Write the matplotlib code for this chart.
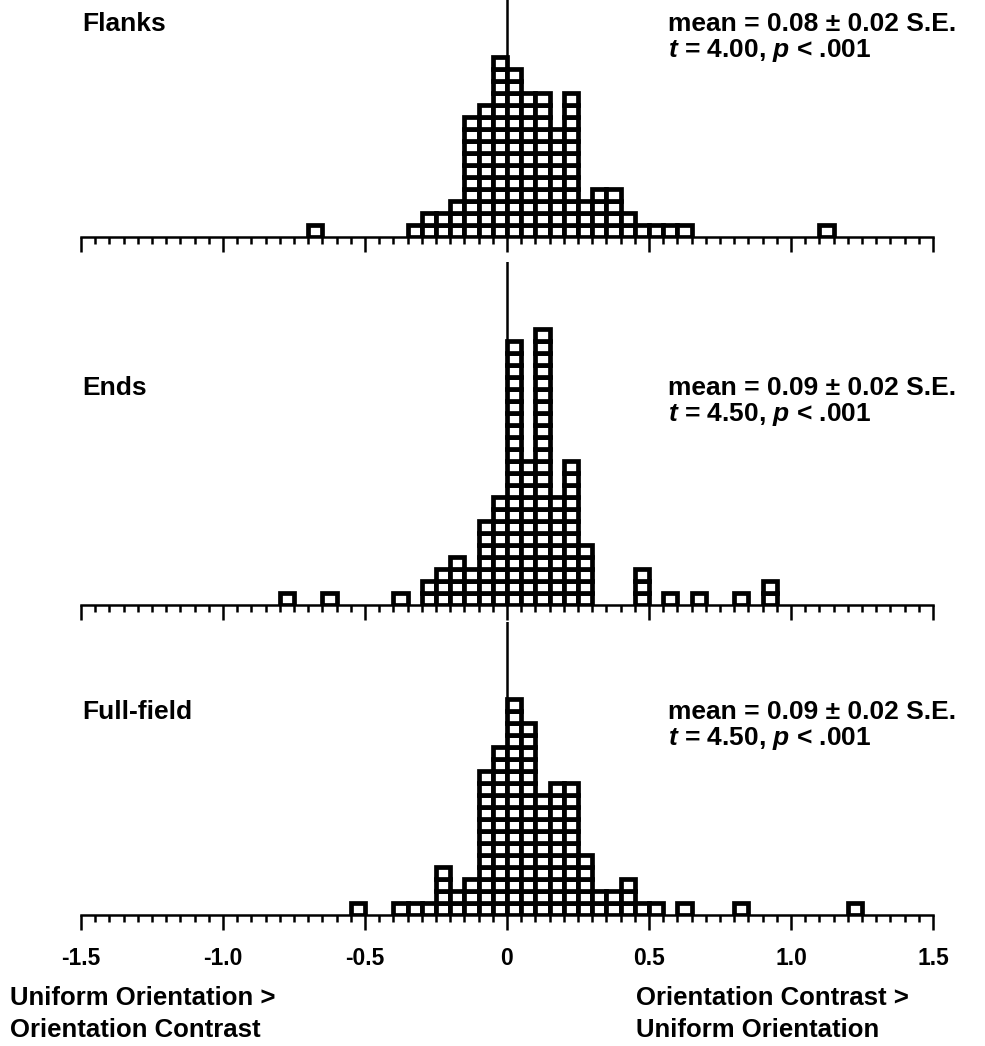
import matplotlib
matplotlib.use("Agg")
import matplotlib.pyplot as plt
from matplotlib.patches import Rectangle
from matplotlib.ticker import MultipleLocator

plt.rcParams['font.family'] = ['Liberation Sans', 'DejaVu Sans']
plt.rcParams['font.weight'] = 'bold'
plt.rcParams['mathtext.fontset'] = 'custom'
plt.rcParams['mathtext.it'] = 'Liberation Sans:italic:bold'
plt.rcParams['mathtext.rm'] = 'Liberation Sans:bold'

BIN = 0.05

# left edge of each occupied bin and number of observers in it
flanks_bins = [-0.70, -0.35, -0.30, -0.25, -0.20, -0.15, -0.10, -0.05, 0.00, 0.05, 0.10,
               0.15, 0.20, 0.25, 0.30, 0.35, 0.40, 0.45, 0.50, 0.55, 0.60, 1.10]
flanks_counts = [1, 1, 2, 2, 3, 10, 11, 15, 14, 12, 12, 9, 12, 3, 4, 4, 2, 1, 1, 1, 1, 1]

ends_bins = [-0.80, -0.65, -0.40, -0.30, -0.25, -0.20, -0.15, -0.10, -0.05, 0.00, 0.05,
             0.10, 0.15, 0.20, 0.25, 0.45, 0.55, 0.65, 0.80, 0.90]
ends_counts = [1, 1, 1, 2, 3, 4, 3, 7, 9, 22, 12, 23, 9, 12, 5, 3, 1, 1, 1, 2]

full_bins = [-0.55, -0.40, -0.35, -0.30, -0.25, -0.20, -0.15, -0.10, -0.05, 0.00, 0.05,
             0.10, 0.15, 0.20, 0.25, 0.30, 0.35, 0.40, 0.45, 0.50, 0.60, 0.80, 1.20]
full_counts = [1, 1, 1, 1, 4, 2, 3, 12, 14, 18, 16, 10, 11, 11, 5, 2, 2, 3, 1, 1, 1, 1, 1]

names = ["Flanks", "Ends", "Full-field"]
means = ["0.08", "0.09", "0.09"]
ses = ["0.02", "0.02", "0.02"]
tvals = ["4.00", "4.50", "4.50"]

tick_vals = [-1.5, -1.0, -0.5, 0, 0.5, 1.0, 1.5]
tick_labels = ["-1.5", "-1.0", "-0.5", "0", "0.5", "1.0", "1.5"]

W, H = 985, 1046
fig = plt.figure(figsize=(W / 100, H / 100), dpi=100)

ROW = 12  # px per square
X0, X1 = 81, 933
FS = 19
# (top of zero line, baseline, y of header text) in pixels
panels = [(0, 237, 24), (262, 605, 388), (622, 915, 712)]
data = [(flanks_bins, flanks_counts), (ends_bins, ends_counts), (full_bins, full_counts)]

for i, ((top, base, ty), (bins, counts)) in enumerate(zip(panels, data)):
    hpx = base - top
    ax = fig.add_axes([X0 / W, 1 - base / H, (X1 - X0) / W, hpx / H])
    ax.set_xlim(-1.5, 1.5)
    ax.set_ylim(0, hpx / ROW)
    for s in ["left", "right", "top"]:
        ax.spines[s].set_visible(False)
    ax.spines["bottom"].set_linewidth(1.8)
    ax.set_yticks([])
    ax.xaxis.set_major_locator(MultipleLocator(0.5))
    ax.xaxis.set_minor_locator(MultipleLocator(0.05))
    ax.tick_params(axis="x", which="major", direction="out", length=11, width=1.8)
    ax.tick_params(axis="x", which="minor", direction="out", length=5, width=1.8)
    if i == 2:
        ax.set_xticks(tick_vals)
        ax.set_xticklabels(tick_labels, fontsize=16.5, fontweight="bold")
        ax.tick_params(axis="x", which="major", pad=12)
    else:
        ax.set_xticklabels([])

    for b, c in zip(bins, counts):
        for j in range(c):
            ax.add_patch(Rectangle((b, j), BIN, 1, facecolor="white",
                                   edgecolor="black", linewidth=3.4, zorder=2))
    ax.axvline(0, color="black", linewidth=1.8, zorder=3)

    fig.text(82 / W, 1 - ty / H, names[i], fontsize=FS, fontweight="bold",
             va="center", ha="left")
    fig.text(668 / W, 1 - ty / H, "mean = %s \u00b1 %s S.E." % (means[i], ses[i]),
             fontsize=FS, fontweight="bold", va="center", ha="left")
    fig.text(668 / W, 1 - (ty + 26) / H, r"$t$ = %s, $p$ < .001" % tvals[i],
             fontsize=FS, fontweight="bold", va="center", ha="left")

fig.text(10 / W, 1 - 998 / H, "Uniform Orientation >", fontsize=18.5, fontweight="bold",
         va="center", ha="left")
fig.text(10 / W, 1 - 1030 / H, "Orientation Contrast", fontsize=18.5, fontweight="bold",
         va="center", ha="left")
fig.text(636 / W, 1 - 998 / H, "Orientation Contrast >", fontsize=18.5, fontweight="bold",
         va="center", ha="left")
fig.text(636 / W, 1 - 1030 / H, "Uniform Orientation", fontsize=18.5, fontweight="bold",
         va="center", ha="left")

fig.savefig("out.png", dpi=100)
